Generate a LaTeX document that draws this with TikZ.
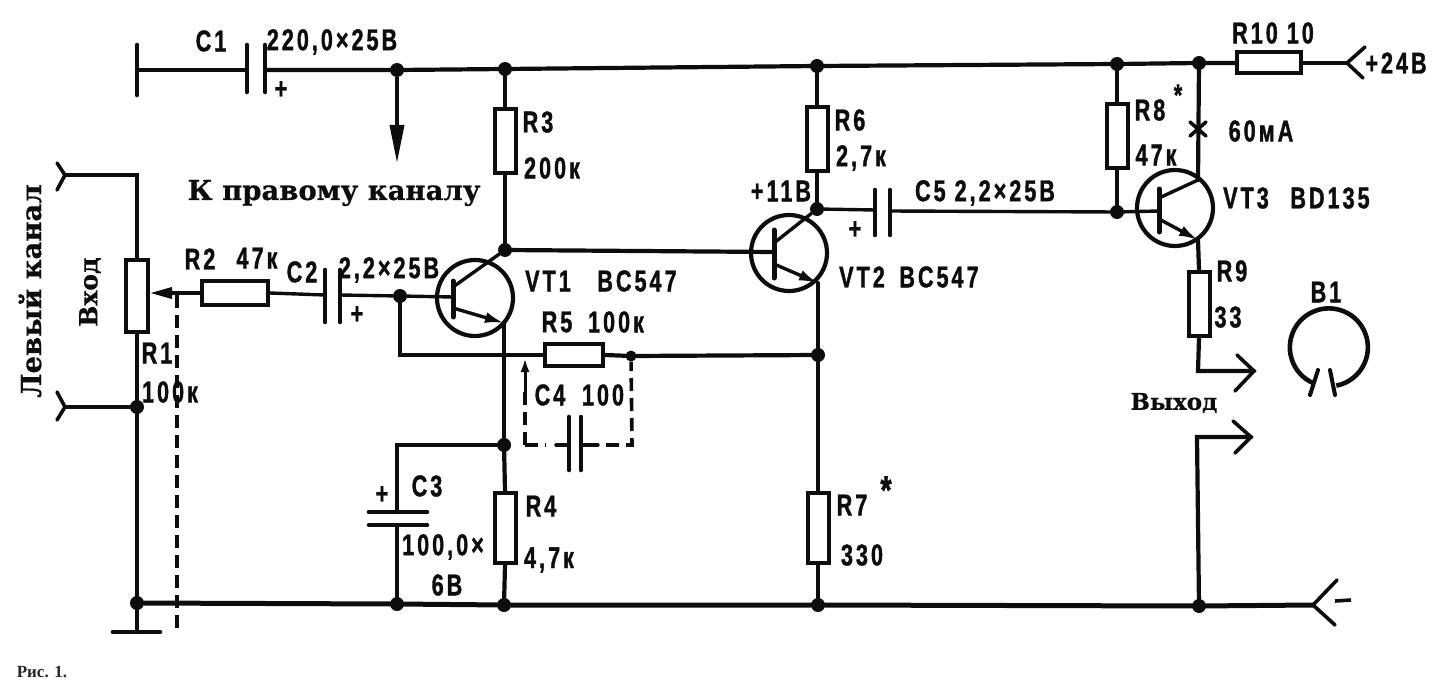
\documentclass[tikz,border=0pt]{standalone}
\usepackage{fontspec}
\usetikzlibrary{arrows.meta}
\setmainfont{Liberation Sans}
\newfontfamily\labf[FakeStretch=0.72,LetterSpace=10,FakeBold=1.2]{Liberation Sans Bold}
\newfontfamily\serf[FakeBold=0.6]{DejaVu Serif Bold}
\newfontfamily\capf{Liberation Serif Bold}
\tikzset{
  wire/.style={line width=4.2pt,line cap=round,line join=miter,black!95},
  thin wire/.style={line width=3.4pt,line cap=round,black!95},
  res/.style={draw=black!95,line width=4pt,fill=white,inner sep=0pt,rectangle},
  vres/.style={res,minimum width=21pt,minimum height=64pt},
  hres/.style={res,minimum width=64pt,minimum height=22pt},
  dot/.style={circle,fill=black!95,inner sep=0pt,minimum size=14pt},
  lab/.style={inner sep=0pt,font=\labf\fontsize{30}{30}\selectfont,text=black!95},
  star/.style={inner sep=0pt,font=\labf\fontsize{40}{40}\selectfont,text=black!95},
  ser/.style={inner sep=0pt,font=\serf\fontsize{27.5}{27.5}\selectfont,text=black!95},
  dsh/.style={line width=3.6pt,black!95,dash pattern=on 13pt off 7pt},
  tran/.style={circle,draw=black!95,line width=4.2pt,inner sep=0pt,minimum size=76pt},
  plate/.style={line width=4.6pt,line cap=round,black!95},
  term/.style={line width=3.6pt,line cap=round,line join=miter,black!95},
  emit/.style={line width=3.4pt,-{Latex[length=19pt,width=11pt]},black!95}
}
\begin{document}
\begin{tikzpicture}[x=1pt,y=-1pt]
\useasboundingbox (0,0) rectangle (1440,698);
% rail points
\coordinate (tl) at (137,70);
\coordinate (c1a) at (247,70);
\coordinate (c1b) at (265,70);
\node[dot] (a1) at (397,70) {};
\node[dot] (a2) at (505,69) {};
\node[dot] (a3) at (817,66) {};
\node[dot] (a4) at (1117,64) {};
\node[dot] (a5) at (1199,63) {};
\coordinate (pin) at (1347,63);
% bottom rail
\node[dot] (b1) at (137,603) {};
\node[dot] (b2) at (397,604) {};
\node[dot] (b3) at (504,605) {};
\node[dot] (b4) at (818,605) {};
\node[dot] (b5) at (1199,606) {};
\coordinate (nin) at (1313,605);
% resistors
\node[vres] (R3) at (505,141) {};
\node[vres,minimum height=70pt] (R4) at (505,528) {};
\node[vres] (R6) at (817,139) {};
\node[vres,minimum height=70pt] (R7) at (818,528) {};
\node[vres] (R8) at (1117,136) {};
\node[vres] (R9) at (1199,304) {};
\node[hres,minimum height=22pt,minimum width=58pt] (R5) at (574,355) {};
\node[hres,minimum height=24pt,minimum width=66pt] (R2) at (235,293) {};
\node[hres,minimum height=21pt] (R10) at (1269,63) {};
\node[vres,minimum width=22pt,minimum height=72pt] (R1) at (137,296) {};
% transistors
\node[tran] (Q1) at (475,298) {};
\node[tran] (Q2) at (789,253) {};
\node[tran] (Q3) at (1175,208) {};
% junctions
\node[dot] (j1) at (505,250) {};
\node[dot] (j2) at (400,296) {};
\node[dot] (j3) at (818,355) {};
\node[dot,minimum size=11pt] (j4) at (631,356) {};
\node[dot] (j5) at (504,445) {};
\node[dot] (j6) at (817,209) {};
\node[dot] (j7) at (1117,212) {};
\node[dot] (j8) at (137,407) {};
% rails
\draw[wire] (tl) -- (c1a);
\draw[wire] (c1b) -- (a1) -- (a2) -- (a3) -- (a4) -- (a5) -- (R10.west);
\draw[thin wire] (R10.east) -- (pin);
\draw[wire,line width=5pt] (b1) -- (b2) -- (b3) -- (b4) -- (b5) -- (nin);
\draw[plate] (137,45) -- (137,95);
\draw[plate] (c1a) ++(0,-25) -- ++(0,47);
\draw[plate] (c1b) ++(0,-25) -- ++(0,47);
% pins
\draw[term] (1365,47) -- (pin) -- (1363,78);
\draw[term] (1337,580) -- (nin) -- (1335,625);
% down arrow
\draw[line width=3.6pt,-{Triangle[length=38pt,width=14pt]},black!95] (a1) -- (397,163);
% R3, R6, R7...
\draw[wire] (a2) -- (R3.north);
\draw[wire] (R3.south) -- (j1);
\draw[wire] (j1) -- (774,252);
\draw[wire] (a3) -- (R6.north);
\draw[wire] (R6.south) -- (j6);
% Q1
\coordinate (q1e) at (504,323);
\draw[plate,line width=5pt] (453,281) -- (453,317);
\draw[thin wire] (j2) -- (453,297);
\draw[thin wire] (453,287) -- (j1);
\draw[emit] (453,308) -- (q1e);
\draw[wire] (q1e) -- (j5);
\draw[wire] (j5) -- (R4.north);
\draw[wire] (R4.south) -- (b3);
% Q2
\draw[plate,line width=5pt] (774,230) -- (774,278);
\draw[thin wire] (774,243) -- (j6);
\draw[emit] (774,264) -- (818,283);
\draw[wire] (818,283) -- (j3);
\draw[wire] (j3) -- (R7.north);
\draw[wire] (R7.south) -- (b4);
% Q3
\draw[plate,line width=5pt] (1159,189) -- (1159,232);
\draw[thin wire] (j7) -- (1159,211);
\draw[thin wire] (1159,198) -- (1198,180);
\draw[emit] (1159,219) -- (1198,240);
\draw[wire] (a5) -- (1198,180);
\draw[wire] (1198,240) -- (R9.north);
\draw[line width=3.6pt,line cap=round,black!95] (1190,122) -- (1206,136) (1206,122) -- (1190,136);
\draw[wire] (a4) -- (R8.north);
\draw[wire] (R8.south) -- (j7);
% C5
\draw[thin wire] (j6) -- (875,210);
\draw[plate] (875,190) -- (875,235);
\draw[plate] (890,190) -- (890,235);
\draw[thin wire] (890,211) -- (j7);
% R5 path
\draw[wire] (j2) -- (400,355) -- (R5.west);
\draw[wire] (R5.east) -- (j4) -- (j3);
% C4 dashed
\coordinate (d1) at (525,445);
\coordinate (d2) at (632,445);
\draw[dsh] (d1) -- (525,385);
\draw[line width=3pt,-{Latex[length=14pt,width=9pt]},black!95] (525,392) -- (525,358);
\draw[dsh] (d1) -- (546,445);
\draw[thin wire] (556,445) -- (569,445);
\draw[thin wire] (581,445) -- (598,445);
\draw[dsh] (606,445) -- (d2) -- (j4);
\draw[plate] (569,417) -- (569,470);
\draw[plate] (581,417) -- (581,470);
% C3
\draw[wire] (j5) -- (397,445) -- (397,512);
\draw[plate] (369,512) -- (427,512);
\draw[plate] (369,525) -- (427,525);
\draw[wire] (397,525) -- (b2);
% left input
\coordinate (in1) at (65,175);
\coordinate (in2) at (65,407);
\draw[wire] (in1) -- (137,175) -- (R1.north);
\draw[wire] (R1.south) -- (j8) -- (b1);
\draw[wire] (in2) -- (j8);
\draw[term] (57,163) -- (in1) -- (57,190);
\draw[term] (57,392) -- (in2) -- (57,420);
\draw[wire] (b1) -- (137,632);
\draw[plate] (113,632) -- (160,632);
% wiper + R2, C2
\draw[thin wire,-{Triangle[length=22pt,width=11pt]}] (R2.west) -- (150,293);
\draw[dsh] (177,295) -- (177,632);
\draw[thin wire] (R2.east) -- (325,295);
\draw[plate] (325,270) -- (325,322);
\draw[plate] (340,270) -- (340,322);
\draw[thin wire] (340,295) -- (j2);
% output
\coordinate (o1) at (1198,371);
\coordinate (o2) at (1197,437);
\draw[wire] (R9.south) -- (o1) -- (1254,371);
\draw[term] (1237,355) -- (1254,371) -- (1235,391);
\draw[wire] (b5) -- (o2) -- (1251,437);
\draw[term] (1233,421) -- (1251,437) -- (1235,453);
% B1
\draw[line width=4.6pt,black!95] (1313,383) arc[start angle=246,end angle=-79,radius=39pt];
\draw[term,line width=4pt] (1318,370) -- (1310,395);
\draw[term,line width=4pt] (1330,370) -- (1335,395);
% minus
\draw[line width=3.6pt,black!95] (1335,601) -- (1351,600);
% labels
\node[lab] (t1) at (211,41) {C1};
\node[lab] (t2) at (332,42) {220,0×25В};
\node[lab] (t3) at (281,90) {+};
\node[lab] (t4) at (1273,33) {R10 10};
\node[lab] (t5) at (1396,63) {+24В};
\node[ser] (t6) at (334,193) {К правому каналу};
\node[ser,rotate=90,font=\serf\fontsize{25}{25}\selectfont] (t7) at (90,292) {Вход};
\node[ser,rotate=90] (t8) at (30,291) {Левый канал};
\node[lab] (t9) at (200,259) {R2};
\node[lab] (t10) at (257,258) {47к};
\node[lab] (t11) at (302,272) {C2};
\node[lab] (t12) at (389,270) {2,2×25В};
\node[lab] (t13) at (357,315) {+};
\node[lab] (t14) at (157,353) {R1};
\node[lab] (t15) at (170,392) {100к};
\node[lab] (t16) at (538,122) {R3};
\node[lab] (t17) at (552,168) {200к};
\node[lab] (t18) at (548,281) {VT1};
\node[lab] (t19) at (637,281) {BC547};
\node[lab] (t20) at (557,322) {R5};
\node[lab] (t21) at (616,322) {100к};
\node[lab] (t22) at (550,395) {C4};
\node[lab] (t23) at (603,395) {100};
\node[lab] (t24) at (382,495) {+};
\node[lab] (t25) at (427,486) {C3};
\node[lab] (t26) at (443,547) {100,0×};
\node[lab] (t27) at (447,585) {6В};
\node[lab] (t28) at (541,506) {R4};
\node[lab] (t29) at (549,560) {4,7к};
\node[lab] (t30) at (850,120) {R6};
\node[lab] (t31) at (861,158) {2,7к};
\node[lab] (t32) at (781,191) {+11В};
\node[lab] (t33) at (855,230) {+};
\node[lab] (t34) at (985,193) {C5 2,2×25В};
\node[lab] (t35) at (862,277) {VT2};
\node[lab] (t36) at (939,277) {BC547};
\node[lab] (t37) at (852,505) {R7};
\node[star] (t38) at (886,490) {*};
\node[lab] (t39) at (862,555) {330};
\node[lab] (t40) at (1150,110) {R8};
\node[star,font=\labf\fontsize{30}{30}\selectfont] (t41) at (1178,95) {*};
\node[lab] (t42) at (1156,155) {47к};
\node[lab] (t43) at (1261,131) {60мА};
\node[lab] (t44) at (1246,198) {VT3};
\node[lab] (t45) at (1330,198) {BD135};
\node[lab] (t46) at (1232,271) {R9};
\node[lab] (t47) at (1228,317) {33};
\node[lab] (t48) at (1326,292) {B1};
\node[ser,font=\serf\fontsize{23}{23}\selectfont] (t49) at (1174,403) {Выход};
\node[inner sep=0pt,font=\capf\fontsize{17}{17}\selectfont,text=black!85] (t50) at (42,672) {Рис. 1.};
\end{tikzpicture}
\end{document}
